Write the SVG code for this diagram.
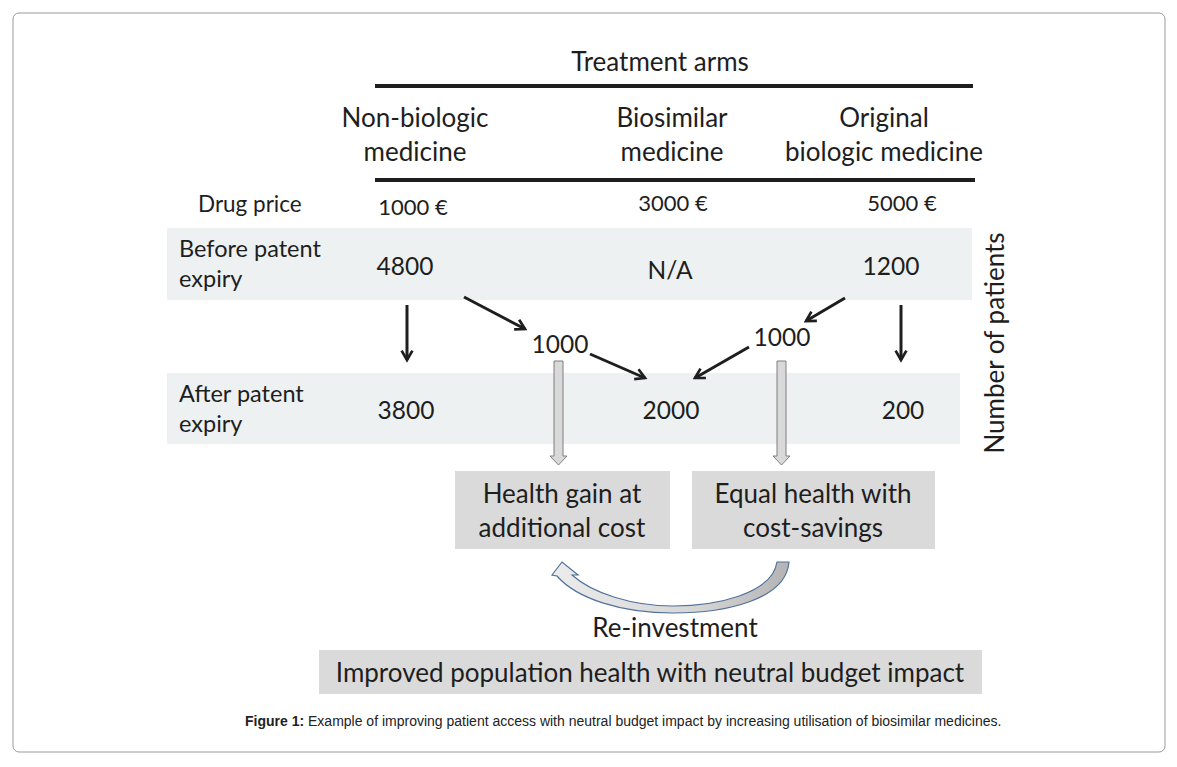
<svg xmlns="http://www.w3.org/2000/svg" width="1177" height="767" viewBox="0 0 1177 767">
<style>
.t{font-family:Lato,"Open Sans",sans-serif;fill:#1e1e1e;font-size:26px}
.n{font-size:24.5px}
.r{font-size:23.5px}
.dp{font-size:22.5px}
.p{font-size:22px}
.band{fill:#edf1f2}
.box{fill:#dadada}
.blk{stroke:#1e1e1e;stroke-width:3;fill:none;marker-end:url(#ah)}
.gray{fill:#d9d9d9;stroke:#7f7f7f;stroke-width:1}
.cap{font-family:"Liberation Sans",Arial,sans-serif;font-size:14px;fill:#222}
</style>
<defs>
<marker id="ah" viewBox="0 0 10 10" refX="8" refY="5" markerWidth="4.5" markerHeight="4.5" orient="auto" markerUnits="strokeWidth">
<path d="M1,1 L8,5 L1,9" fill="none" stroke="#1e1e1e" stroke-width="2"/>
</marker>
<linearGradient id="cg" x1="0" y1="0" x2="1" y2="0">
<stop offset="0" stop-color="#ececec"/>
<stop offset="0.6" stop-color="#d6d6d6"/>
<stop offset="1" stop-color="#b4b4b4"/>
</linearGradient>
</defs>
<rect x="13" y="13" width="1152" height="739" rx="6" fill="#fff" stroke="#9a9a9a" stroke-width="1"/>

<g id="header">
<text class="t" x="660" y="71" text-anchor="middle">Treatment arms</text>
<line x1="375" y1="86" x2="973" y2="86" stroke="#1e1e1e" stroke-width="4"/>
<text class="t" x="415" y="127" text-anchor="middle">Non-biologic</text>
<text class="t" x="415" y="161" text-anchor="middle">medicine</text>
<text class="t" x="672" y="127" text-anchor="middle">Biosimilar</text>
<text class="t" x="672" y="161" text-anchor="middle">medicine</text>
<text class="t" x="884" y="127" text-anchor="middle">Original</text>
<text class="t" x="884" y="161" text-anchor="middle">biologic medicine</text>
<line x1="375" y1="180" x2="975" y2="180" stroke="#1e1e1e" stroke-width="4"/>
</g>

<g id="price">
<text class="t dp" x="198" y="212">Drug price</text>
<text class="t p" x="413" y="215" text-anchor="middle">1000 €</text>
<text class="t p" x="673" y="211" text-anchor="middle">3000 €</text>
<text class="t p" x="902" y="211" text-anchor="middle">5000 €</text>
</g>

<g id="before">
<rect class="band" x="167" y="228" width="805" height="72"/>
<text class="t r" x="179" y="257">Before patent</text>
<text class="t r" x="179" y="287">expiry</text>
<text class="t n" x="405" y="275" text-anchor="middle">4800</text>
<text class="t n" x="670" y="279" text-anchor="middle">N/A</text>
<text class="t n" x="891" y="275" text-anchor="middle">1200</text>
</g>

<g id="after">
<rect class="band" x="167" y="373" width="793" height="71"/>
<text class="t r" x="179" y="402">After patent</text>
<text class="t r" x="179" y="432">expiry</text>
<text class="t n" x="406" y="419" text-anchor="middle">3800</text>
<text class="t n" x="671" y="419" text-anchor="middle">2000</text>
<text class="t n" x="903" y="419" text-anchor="middle">200</text>
</g>

<g id="switch">
<text class="t n" x="560" y="353" text-anchor="middle">1000</text>
<text class="t n" x="782" y="346" text-anchor="middle">1000</text>
</g>

<g id="connectors">
<line class="blk" x1="407" y1="305" x2="407" y2="360"/>
<line class="blk" x1="901" y1="305" x2="901" y2="360"/>
<line class="blk" x1="464" y1="297" x2="525" y2="329"/>
<line class="blk" x1="845" y1="298" x2="806" y2="321"/>
<line class="blk" x1="590" y1="354" x2="645" y2="378"/>
<line class="blk" x1="749" y1="347" x2="695" y2="378"/>
<path class="gray" d="M554,361 H563 V456 H567 L558.5,465 L550,456 H554 Z"/>
<path class="gray" d="M777,361 H786 V456 H790 L781.5,465 L773,456 H777 Z"/>
<path d="M789,562 C786,600 725,613 673,613 C622,613 577,599 557,576 L552,575 L562,562 L578,575 L572,575 C592,593 632,606 673,606 C716,606 772,594 777,562 Z" fill="url(#cg)" stroke="#52729a" stroke-width="1.2"/>
</g>

<g id="health-gain">
<rect class="box" x="455" y="471" width="215" height="78"/>
<text class="t" x="562" y="503" text-anchor="middle">Health gain at</text>
<text class="t" x="562" y="537" text-anchor="middle">additional cost</text>
</g>

<g id="equal-health">
<rect class="box" x="692" y="471" width="243" height="78"/>
<text class="t" x="813" y="503" text-anchor="middle">Equal health with</text>
<text class="t" x="813" y="537" text-anchor="middle">cost-savings</text>
</g>

<g id="reinvest">
<text class="t" x="675" y="637" text-anchor="middle">Re-investment</text>
</g>

<g id="result">
<rect class="box" x="319" y="650" width="663" height="44"/>
<text class="t" x="650" y="682" text-anchor="middle">Improved population health with neutral budget impact</text>
</g>

<g id="axis">
<text class="t" transform="translate(1004,343) rotate(-90)" text-anchor="middle">Number of patients</text>
</g>

<text class="cap" x="245" y="726"><tspan font-weight="bold">Figure 1:</tspan> Example of improving patient access with neutral budget impact by increasing utilisation of biosimilar medicines.</text>
</svg>
